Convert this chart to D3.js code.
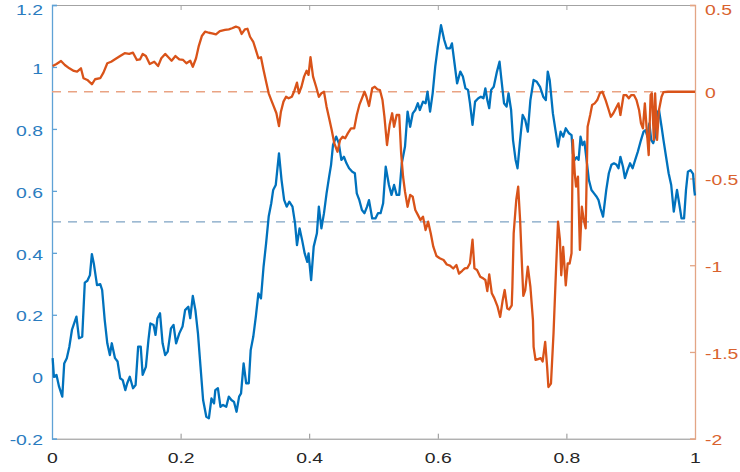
<!DOCTYPE html>
<html>
<head>
<meta charset="utf-8">
<script src="https://cdn.jsdelivr.net/npm/d3@7"></script>
<style>
  html, body { margin: 0; padding: 0; background: #fff; }
  svg { display: block; font-family: "Liberation Sans", Arial, Helvetica, sans-serif; }
  /* the reference labels look stretched sideways */
  .tick text { transform-box: fill-box; }
  .x-axis .tick text { transform-origin: 50% 50%; transform: scaleX(1.25); }
  .y-left .tick text { transform-origin: 100% 50%; transform: scaleX(1.25); }
  .y-right .tick text { transform-origin: 0% 50%; transform: scaleX(1.25); }
</style>
</head>
<body>
<svg id="chart" width="740" height="472"></svg>
<script>
const width = 740;
const height = 472;
const margin = { top: 5, right: 45, bottom: 33.3, left: 52 };

const blueColor = "#0072BD";
const orangeColor = "#D95319";

// left axis series (blue)
const blueX = [
    0.001,0.003,0.007,0.011,0.016,0.019,0.023,0.027,0.031,0.038,
    0.042,0.047,0.051,0.055,0.059,0.062,0.065,0.070,0.075,0.078,
    0.082,0.086,0.090,0.093,0.098,0.102,0.106,0.110,0.114,0.117,
    0.121,0.126,0.130,0.134,0.138,0.141,0.146,0.150,0.153,0.158,
    0.161,0.164,0.168,0.172,0.176,0.180,0.185,0.189,0.193,0.198,
    0.203,0.207,0.212,0.215,0.219,0.223,0.227,0.231,0.235,0.240,
    0.244,0.248,0.252,0.254,0.258,0.262,0.266,0.271,0.275,0.279,
    0.283,0.287,0.291,0.294,0.298,0.302,0.306,0.309,0.313,0.317,
    0.321,0.325,0.329,0.333,0.337,0.341,0.344,0.348,0.353,0.357,
    0.361,0.365,0.369,0.374,0.378,0.381,0.385,0.389,0.393,0.397,
    0.399,0.403,0.407,0.412,0.415,0.419,0.423,0.427,0.431,0.434,
    0.437,0.442,0.446,0.450,0.454,0.458,0.462,0.467,0.471,0.474,
    0.478,0.482,0.486,0.490,0.493,0.498,0.503,0.507,0.511,0.515,
    0.519,0.524,0.528,0.532,0.536,0.540,0.544,0.549,0.553,0.557,
    0.561,0.565,0.569,0.572,0.577,0.581,0.584,0.588,0.592,0.596,
    0.600,0.605,0.610,0.614,0.619,0.622,0.626,0.630,0.635,0.639,
    0.643,0.647,0.650,0.654,0.658,0.663,0.667,0.671,0.674,0.677,
    0.680,0.683,0.687,0.692,0.696,0.699,0.703,0.707,0.710,0.714,
    0.717,0.721,0.724,0.728,0.732,0.736,0.740,0.744,0.749,0.754,
    0.759,0.764,0.768,0.771,0.774,0.779,0.783,0.787,0.791,0.795,
    0.799,0.804,0.808,0.810,0.813,0.816,0.819,0.822,0.825,0.828,
    0.832,0.835,0.839,0.843,0.847,0.850,0.853,0.857,0.862,0.866,
    0.870,0.874,0.878,0.881,0.884,0.888,0.891,0.895,0.899,0.903,
    0.907,0.911,0.916,0.920,0.923,0.926,0.929,0.932,0.935,0.938,
    0.941,0.944,0.948,0.951,0.955,0.959,0.963,0.967,0.972,0.975,
    0.979,0.983,0.986,0.989,0.993,0.997,0.999,1.000
];
const blueY = [
    0.060,0.000,0.006,-0.032,-0.064,0.043,0.060,0.097,0.151,0.194,
    0.124,0.129,0.304,0.310,0.328,0.396,0.366,0.296,0.299,0.280,
    0.183,0.108,0.070,0.108,0.060,0.049,-0.005,-0.011,-0.043,-0.021,
    0.000,-0.037,-0.027,0.097,0.097,0.006,0.032,0.119,0.172,0.167,
    0.135,0.189,0.205,0.108,0.070,0.081,0.156,0.167,0.108,0.140,
    0.162,0.215,0.226,0.189,0.261,0.215,0.140,0.032,-0.075,-0.129,
    -0.134,-0.070,-0.086,-0.043,-0.037,-0.097,-0.091,-0.097,-0.064,-0.075,
    -0.081,-0.113,-0.064,-0.054,0.043,-0.021,-0.021,0.086,0.129,0.194,
    0.269,0.253,0.355,0.431,0.517,0.560,0.603,0.619,0.721,0.635,
    0.571,0.549,0.565,0.549,0.495,0.425,0.479,0.441,0.398,0.371,
    0.398,0.312,0.420,0.463,0.549,0.479,0.528,0.592,0.646,0.684,
    0.748,0.775,0.754,0.700,0.710,0.689,0.673,0.662,0.657,0.592,
    0.570,0.538,0.528,0.549,0.570,0.511,0.511,0.528,0.528,0.560,
    0.678,0.619,0.587,0.619,0.587,0.587,0.689,0.743,0.856,0.807,
    0.850,0.861,0.883,0.861,0.888,0.883,0.920,0.856,0.915,1.001,
    1.065,1.135,1.087,1.060,1.060,1.076,1.012,0.947,0.985,0.969,
    0.931,0.926,0.883,0.813,0.888,0.899,0.904,0.899,0.931,0.893,
    0.867,0.926,0.936,0.985,1.017,0.958,0.883,0.872,0.915,0.861,
    0.764,0.700,0.673,0.764,0.845,0.829,0.791,0.893,0.958,0.952,
    0.936,0.904,0.893,0.985,0.958,0.850,0.796,0.743,0.791,0.775,
    0.802,0.786,0.780,0.721,0.700,0.709,0.700,0.775,0.748,0.759,
    0.689,0.635,0.603,0.592,0.581,0.570,0.544,0.517,0.603,0.657,
    0.684,0.689,0.684,0.673,0.710,0.678,0.641,0.667,0.689,0.673,
    0.700,0.726,0.764,0.791,0.796,0.775,0.818,0.764,0.754,0.775,
    0.850,0.861,0.807,0.764,0.710,0.657,0.619,0.533,0.603,0.565,
    0.511,0.511,0.603,0.662,0.667,0.655,0.600,0.585
];

// right axis series (orange)
const orangeX = [
    0.001,0.007,0.014,0.020,0.027,0.034,0.039,0.045,0.049,0.055,
    0.062,0.067,0.075,0.080,0.086,0.092,0.098,0.106,0.113,0.120,
    0.126,0.132,0.137,0.141,0.146,0.152,0.159,0.165,0.170,0.176,
    0.181,0.186,0.192,0.198,0.204,0.209,0.215,0.219,0.224,0.228,
    0.233,0.238,0.244,0.249,0.255,0.261,0.269,0.275,0.280,0.286,
    0.291,0.295,0.300,0.304,0.308,0.313,0.317,0.321,0.325,0.329,
    0.333,0.337,0.341,0.345,0.349,0.353,0.356,0.360,0.364,0.368,
    0.373,0.377,0.381,0.384,0.388,0.392,0.396,0.399,0.402,0.406,
    0.411,0.415,0.419,0.423,0.427,0.431,0.435,0.439,0.444,0.448,
    0.452,0.456,0.460,0.465,0.470,0.474,0.478,0.482,0.486,0.489,
    0.493,0.498,0.502,0.506,0.510,0.514,0.517,0.521,0.525,0.529,
    0.532,0.536,0.540,0.543,0.546,0.549,0.553,0.557,0.561,0.565,
    0.569,0.573,0.577,0.581,0.585,0.589,0.593,0.598,0.603,0.609,
    0.614,0.619,0.624,0.629,0.633,0.638,0.642,0.646,0.650,0.654,
    0.657,0.661,0.666,0.671,0.674,0.677,0.680,0.684,0.688,0.693,
    0.697,0.701,0.704,0.708,0.711,0.715,0.716,0.718,0.722,0.725,
    0.728,0.731,0.733,0.736,0.740,0.744,0.748,0.749,0.752,0.756,
    0.760,0.763,0.767,0.770,0.772,0.776,0.780,0.784,0.787,0.790,
    0.792,0.795,0.799,0.802,0.805,0.808,0.810,0.813,0.815,0.818,
    0.821,0.824,0.827,0.830,0.833,0.837,0.840,0.844,0.848,0.852,
    0.856,0.861,0.865,0.869,0.873,0.877,0.881,0.884,0.889,0.893,
    0.897,0.901,0.905,0.909,0.913,0.916,0.919,0.922,0.925,0.928,
    0.931,0.933,0.936,0.938,0.941,0.944,0.948,0.951,0.958,1.000
];
const orangeY = [
    0.148,0.160,0.177,0.154,0.135,0.120,0.116,0.135,0.078,0.068,
    0.043,0.072,0.078,0.110,0.164,0.173,0.187,0.206,0.222,0.218,
    0.225,0.183,0.187,0.218,0.206,0.160,0.173,0.148,0.193,0.218,
    0.199,0.179,0.206,0.187,0.183,0.164,0.179,0.144,0.193,0.260,
    0.321,0.346,0.340,0.337,0.331,0.350,0.356,0.360,0.366,0.375,
    0.369,0.333,0.360,0.363,0.317,0.288,0.241,0.193,0.199,0.125,
    0.058,-0.009,-0.048,-0.086,-0.124,-0.198,-0.115,-0.057,-0.029,-0.038,
    -0.029,0.006,0.052,-0.009,0.029,0.087,0.121,0.097,0.199,0.087,
    0.026,-0.029,-0.009,0.000,-0.086,-0.153,-0.221,-0.297,-0.346,-0.278,
    -0.259,-0.268,-0.240,-0.211,-0.211,-0.134,-0.076,-0.038,0.000,-0.029,
    -0.082,0.020,0.029,0.014,0.010,-0.048,-0.144,-0.307,-0.192,-0.124,
    -0.202,-0.134,-0.134,-0.355,-0.490,-0.576,-0.663,-0.595,-0.605,-0.682,
    -0.710,-0.739,-0.720,-0.797,-0.749,-0.816,-0.893,-0.947,-0.960,-0.970,
    -0.996,-1.002,-1.019,-0.999,-1.048,-1.032,-1.018,-1.016,-0.989,-0.852,
    -1.018,-1.028,-1.066,-1.077,-1.085,-1.149,-1.053,-1.162,-1.191,-1.239,
    -1.298,-1.200,-1.143,-1.249,-1.255,-1.231,-1.124,-0.816,-0.624,-0.547,
    -0.739,-1.008,-1.177,-1.143,-1.008,-1.124,-1.316,-1.471,-1.546,-1.541,
    -1.536,-1.555,-1.442,-1.585,-1.702,-1.682,-1.391,-1.013,-0.749,-0.855,
    -1.058,-0.895,-1.116,-0.989,-0.990,-0.931,-0.278,-0.470,-0.547,-0.490,
    -0.912,-0.663,-0.739,-0.787,-0.202,-0.134,-0.076,-0.067,-0.048,-0.009,
    0.000,-0.048,-0.095,-0.144,-0.124,-0.095,-0.067,-0.134,-0.019,-0.019,
    -0.038,-0.019,-0.019,-0.048,-0.105,-0.182,-0.211,-0.067,-0.221,-0.365,
    -0.019,-0.009,-0.278,-0.009,-0.278,-0.105,-0.029,-0.002,0.000,0.000
];

// ticks and reference levels
const xTicks = [0, 0.2, 0.4, 0.6, 0.8, 1];
const leftTicks = [-0.2, 0, 0.2, 0.4, 0.6, 0.8, 1, 1.2];
const rightTicks = [-2, -1.5, -1, -0.5, 0, 0.5];
const blueRef = 0.5;
const orangeRef = 0;

const svg = d3.select("#chart");

const x = d3.scaleLinear()
    .domain([0, 1])
    .range([margin.left, width - margin.right]);

const yLeft = d3.scaleLinear()
    .domain([-0.2, 1.2])
    .range([height - margin.bottom, margin.top]);

const yRight = d3.scaleLinear()
    .domain([-2, 0.5])
    .range([height - margin.bottom, margin.top]);

const fmt = d => String(+d.toFixed(2));

// top tick label sits right at the frame edge, nudge it so it is not clipped
const labelDy = (d, i, nodes) => i === nodes.length - 1 ? "0.6em" : "0.4em";

// box: top edge with inward ticks, no labels
svg.append("g")
    .attr("transform", "translate(0," + margin.top + ")")
    .call(d3.axisTop(x).tickValues(xTicks).tickSize(-5).tickFormat(""))
    .call(g => g.selectAll("path, line").attr("stroke", "#a3a3a3"));

// bottom axis
svg.append("g")
    .attr("class", "x-axis")
    .attr("transform", "translate(0," + (height - margin.bottom) + ")")
    .call(d3.axisBottom(x).tickValues(xTicks).tickSize(-5).tickPadding(13).tickFormat(fmt))
    .call(g => g.selectAll("path, line").attr("stroke", "#8f8f8f"))
    .call(g => g.selectAll("text")
        .attr("fill", "#262626")
        .attr("font-size", 15.5));

// left axis (blue)
svg.append("g")
    .attr("class", "y-left")
    .attr("transform", "translate(" + margin.left + ",0)")
    .call(d3.axisLeft(yLeft).tickValues(leftTicks).tickSize(-5).tickPadding(9).tickFormat(fmt))
    .call(g => g.selectAll("path, line").attr("stroke", "#5fa2d6").attr("stroke-width", 1.3))
    .call(g => g.selectAll("text")
        .attr("fill", "#2a7cbf")
        .attr("font-size", 15.5)
        .attr("dy", labelDy));

// right axis (orange)
svg.append("g")
    .attr("class", "y-right")
    .attr("transform", "translate(" + (width - margin.right) + ",0)")
    .call(d3.axisRight(yRight).tickValues(rightTicks).tickSize(-5).tickPadding(10).tickFormat(fmt))
    .call(g => g.selectAll("path, line").attr("stroke", "#e3a585").attr("stroke-width", 1.3))
    .call(g => g.selectAll("text")
        .attr("fill", "#d9622e")
        .attr("font-size", 15.5)
        .attr("dy", labelDy));

svg.selectAll(".domain").attr("fill", "none");

// dashed reference lines
svg.append("line")
    .attr("x1", x(0)).attr("x2", x(1))
    .attr("y1", yRight(orangeRef)).attr("y2", yRight(orangeRef))
    .attr("stroke", "#e9a383")
    .attr("stroke-width", 1.3)
    .attr("stroke-dasharray", "9,7");

svg.append("line")
    .attr("x1", x(0)).attr("x2", x(1))
    .attr("y1", yLeft(blueRef)).attr("y2", yLeft(blueRef))
    .attr("stroke", "#7ea3c4")
    .attr("stroke-width", 1.3)
    .attr("stroke-dasharray", "9,7");

const blueLine = d3.line()
    .x(d => x(d[0]))
    .y(d => yLeft(d[1]));

const orangeLine = d3.line()
    .x(d => x(d[0]))
    .y(d => yRight(d[1]));

svg.append("path")
    .datum(d3.zip(blueX, blueY))
    .attr("d", blueLine)
    .attr("fill", "none")
    .attr("stroke", blueColor)
    .attr("stroke-width", 2.3)
    .attr("stroke-linejoin", "round");

svg.append("path")
    .datum(d3.zip(orangeX, orangeY))
    .attr("d", orangeLine)
    .attr("fill", "none")
    .attr("stroke", orangeColor)
    .attr("stroke-width", 2.3)
    .attr("stroke-linejoin", "round");
</script>
</body>
</html>
